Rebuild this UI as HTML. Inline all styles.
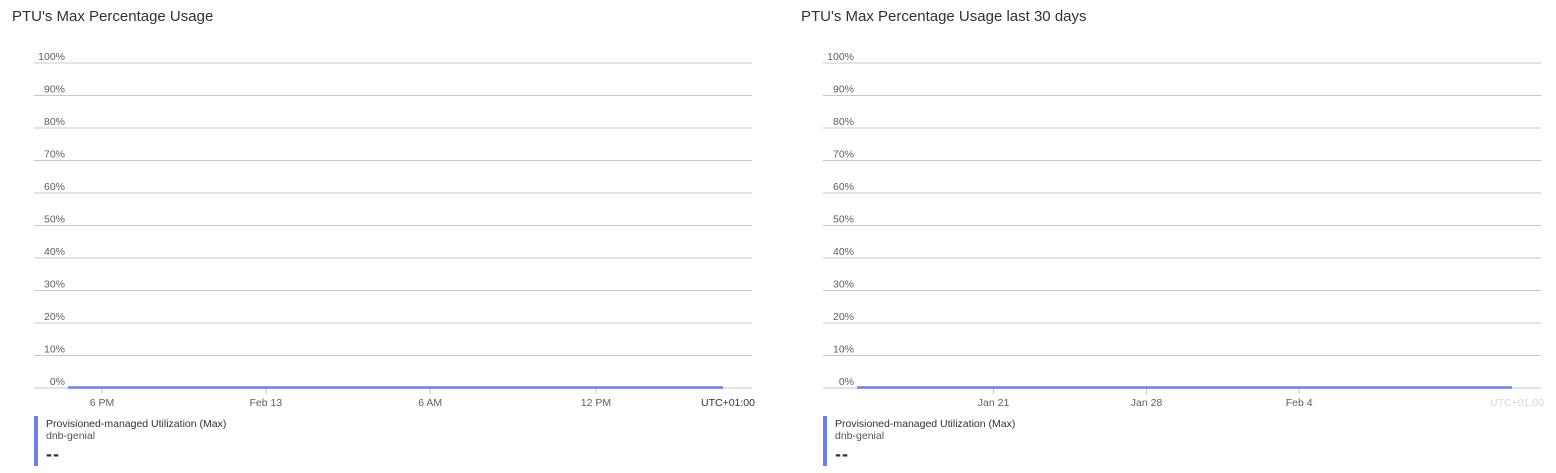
<!DOCTYPE html>
<html><head><meta charset="utf-8"><style>
body{margin:0;width:1556px;height:473px;background:#fff;font-family:"Liberation Sans",sans-serif;overflow:hidden;position:relative}
.title{position:absolute;top:8px;font-size:15px;color:#323130}
.leg{position:absolute;top:416px;height:50px;border-left:4px solid #6b7ff0;padding-left:8px;color:#323130}
.leg .a{font-size:10.5px;margin-top:2px}
.leg .b{font-size:10.5px;color:#555}
.leg .c{font-size:18px;margin-top:2px;letter-spacing:1px;font-weight:bold}
svg{position:absolute;left:0;top:0}
</style></head><body>
<div class="title" style="left:12px">PTU's Max Percentage Usage</div>
<div class="title" style="left:801px">PTU's Max Percentage Usage last 30 days</div>
<div class="leg" style="left:34px"><div class="a">Provisioned-managed Utilization (Max)</div><div class="b">dnb-genial</div><div class="c">--</div></div>
<div class="leg" style="left:823px"><div class="a">Provisioned-managed Utilization (Max)</div><div class="b">dnb-genial</div><div class="c">--</div></div>
<svg id="s" width="1556" height="473"></svg>
<script>
const yTicks=[0,10,20,30,40,50,60,70,80,90,100];
const leftXLabels=["6 PM","Feb 13","6 AM","12 PM"];
const leftXTickPos=[0.052,0.302,0.553,0.806];
const leftSeries=[0,0,0,0,0,0,0,0,0,0,0,0];
const rightXLabels=["Jan 21","Jan 28","Feb 4"];
const rightXTickPos=[0.2085,0.442,0.675];
const rightSeries=[0,0,0,0,0,0,0,0,0,0,0,0];
const NS="http://www.w3.org/2000/svg",svg=document.getElementById('s');
function el(t,a){const e=document.createElementNS(NS,t);for(const k in a)e.setAttribute(k,a[k]);svg.appendChild(e);return e;}
function chart(ox,xl,xp,series,utcColor,side){
 const x0=ox+34,x1=ox+752,yTop=63,yBot=388;
 const y=v=>yBot-(v/100)*(yBot-yTop);
 const dx0=ox+68,dx1=ox+723;
 const x=f=>dx0+f*(dx1-dx0);
 yTicks.forEach(v=>{
  const l=el('line',{x1:x0,x2:x1,y1:y(v),y2:y(v),stroke:'#c8c8c8','stroke-width':1});
  
  
  const t=el('text',{x:ox+65,y:y(v)-3,'text-anchor':'end','font-size':10.5,fill:'#605e5c'});
  t.textContent=v+'%';
  
  
 });
 xl.forEach((s,i)=>{
  const px=x(xp[i]);
  const tk=el('line',{x1:px,x2:px,y1:388,y2:394,stroke:'#c8c8c8'});
  
  
  const t=el('text',{x:px,y:406,'text-anchor':'middle','font-size':10.5,fill:'#605e5c'});
  t.textContent=s;
  
  
 });
 const u=el('text',{x:ox+755,y:406,'text-anchor':'end','font-size':10.5,fill:utcColor});
 u.textContent='UTC+01:00';
 
 
 const pts=series.map((v,i)=>x(i/(series.length-1))+','+(y(v)-0.5)).join(' ');
 const p=el('polyline',{points:pts,fill:'none',stroke:'#6b7ff0','stroke-width':2.5});
 
 
}
chart(0,leftXLabels,leftXTickPos,leftSeries,'#323130','left');
chart(789,rightXLabels,rightXTickPos,rightSeries,'#d8d8d8','right');
</script>
</body></html>
